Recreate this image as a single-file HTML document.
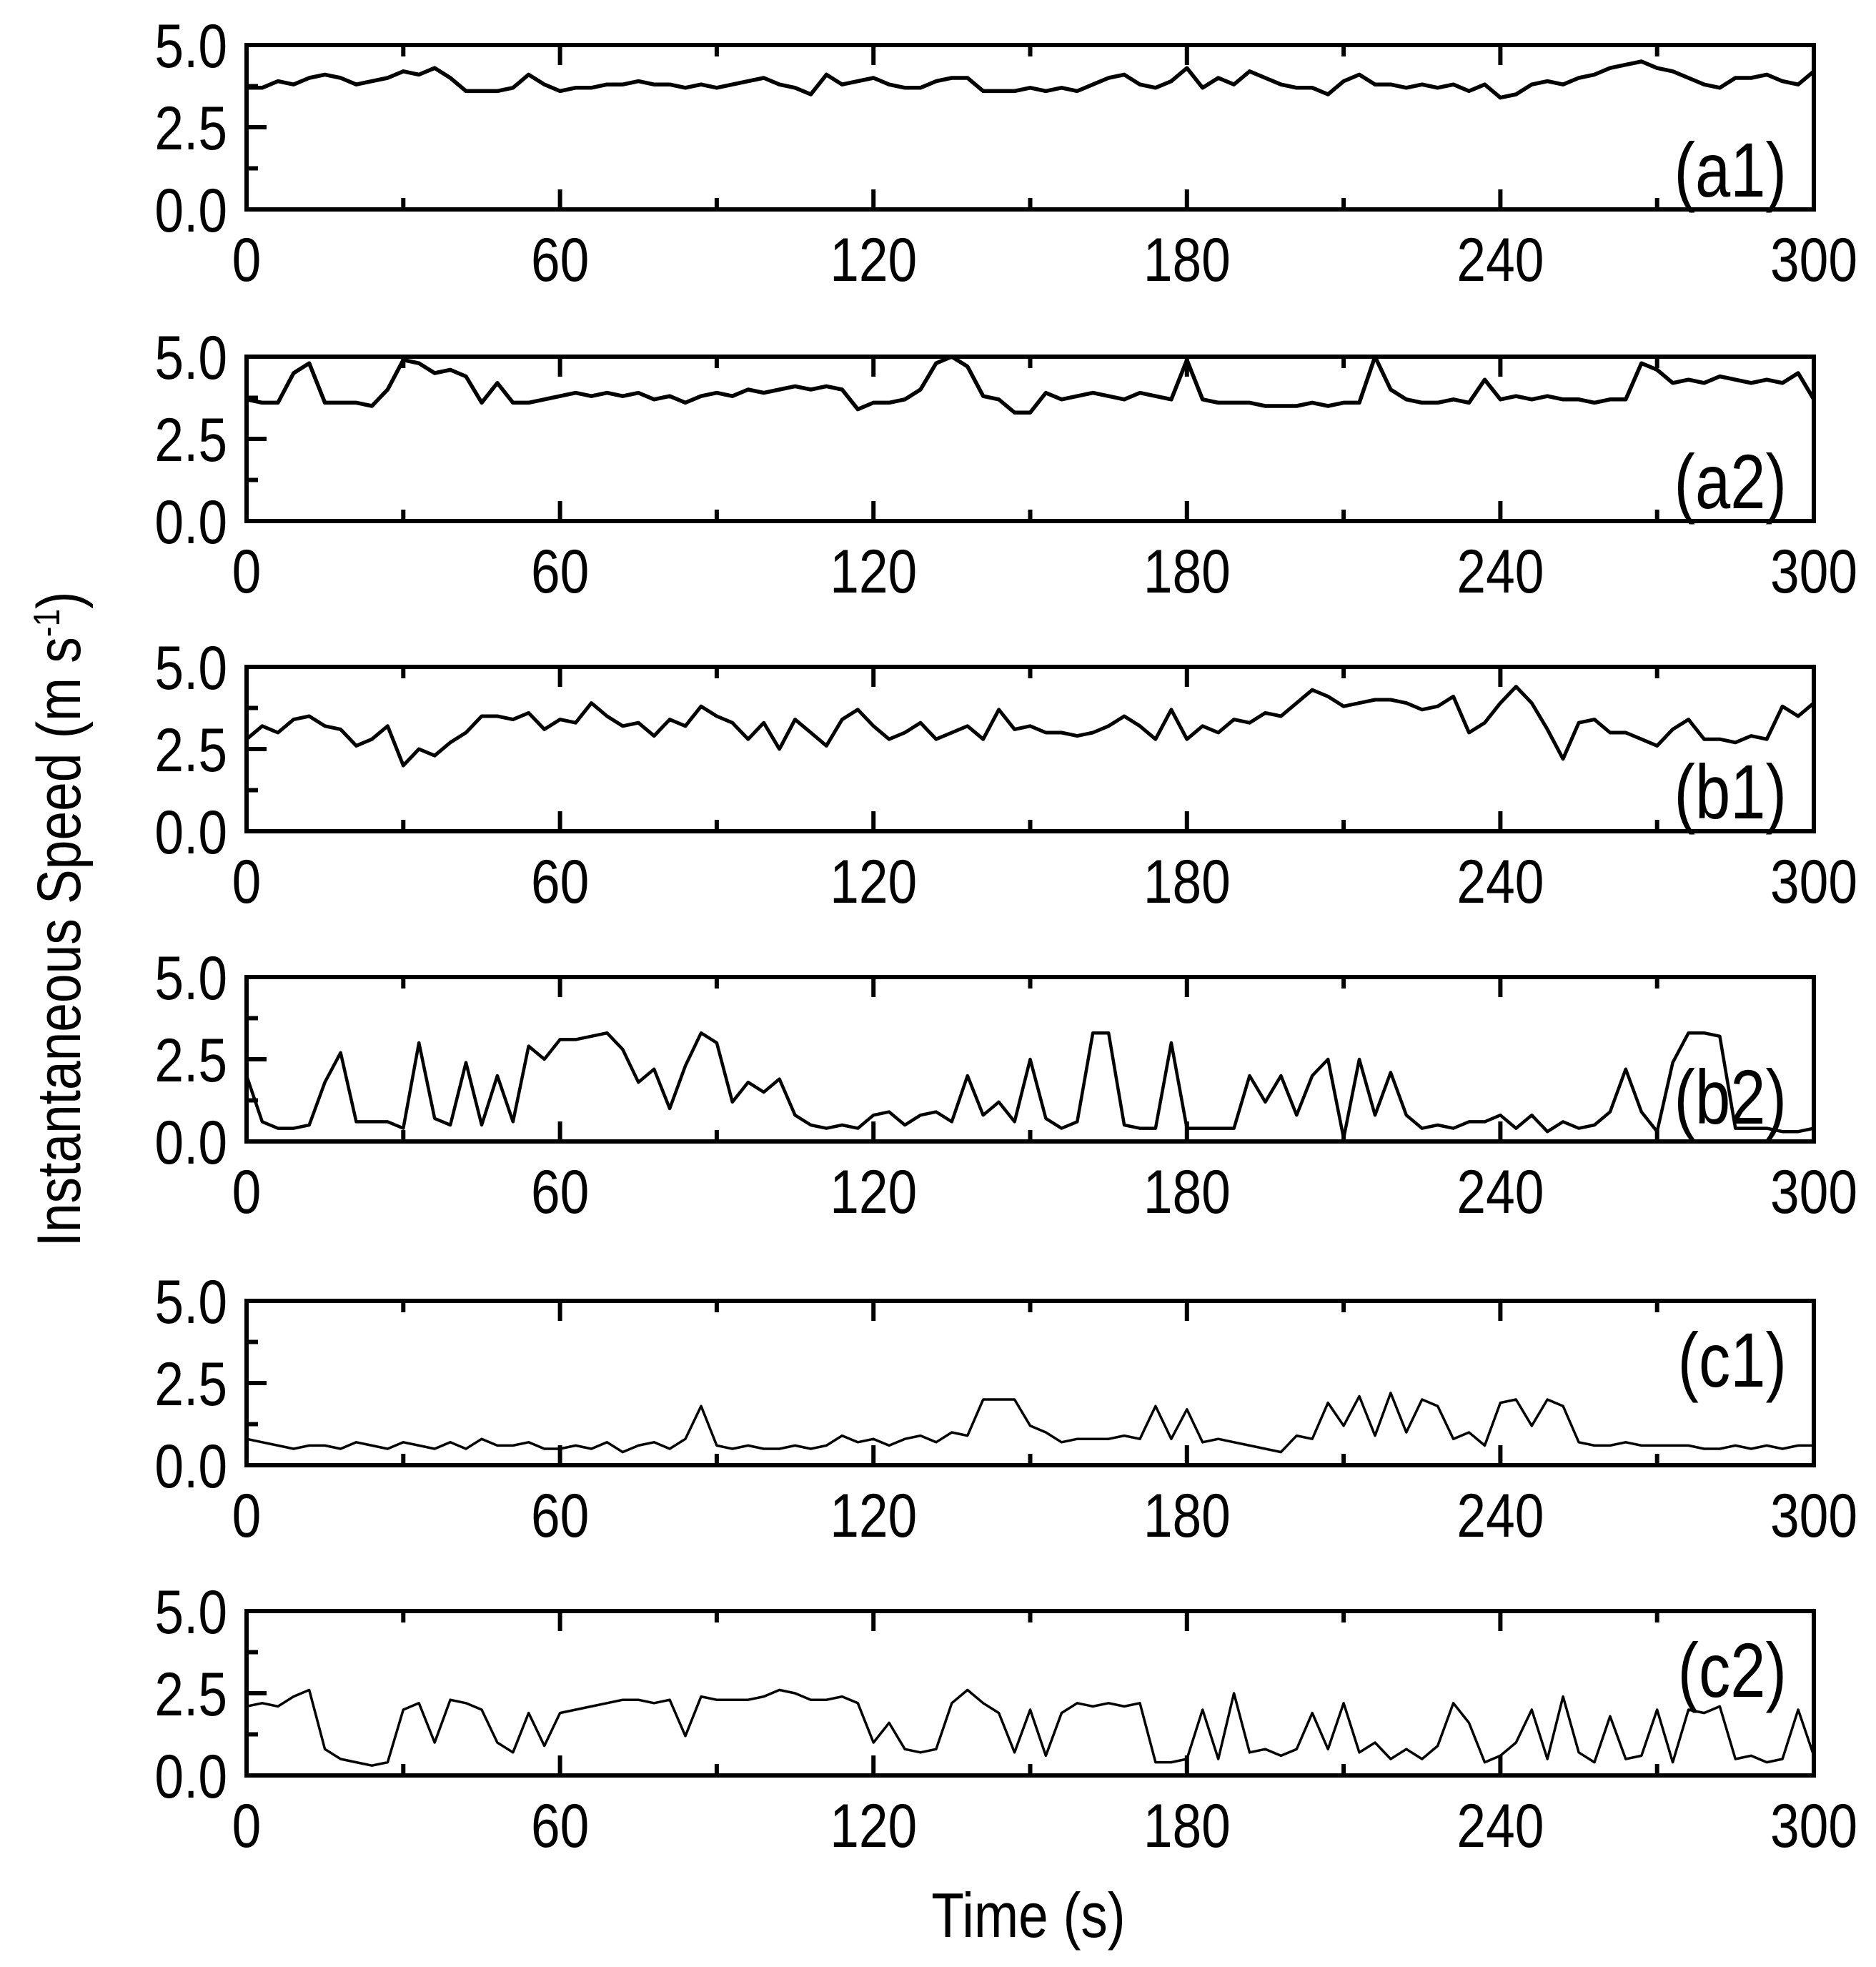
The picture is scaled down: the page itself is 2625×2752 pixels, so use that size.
<!DOCTYPE html>
<html><head><meta charset="utf-8"><style>
html,body{margin:0;padding:0;background:#fff}
svg text{font-family:"Liberation Sans",sans-serif;fill:#000}
</style></head><body>
<svg id="chart" width="2625" height="2747" viewBox="0 0 2625 2747" xmlns="http://www.w3.org/2000/svg"></svg>
<script>
const panelNames = ["a1","a2","b1","b2","c1","c2"];
const yTickLabels = ["0.0","2.5","5.0"];
const xTickLabels = ["0","60","120","180","240","300"];
const a1 = [3.7,3.7,3.9,3.8,4.0,4.1,4.0,3.8,3.9,4.0,4.2,4.1,4.3,4.0,3.6,3.6,3.6,3.7,4.1,3.8,3.6,3.7,3.7,3.8,3.8,3.9,3.8,3.8,3.7,3.8,3.7,3.8,3.9,4.0,3.8,3.7,3.5,4.1,3.8,3.9,4.0,3.8,3.7,3.7,3.9,4.0,4.0,3.6,3.6,3.6,3.7,3.6,3.7,3.6,3.8,4.0,4.1,3.8,3.7,3.9,4.3,3.7,4.0,3.8,4.2,4.0,3.8,3.7,3.7,3.5,3.9,4.1,3.8,3.8,3.7,3.8,3.7,3.8,3.6,3.8,3.4,3.5,3.8,3.9,3.8,4.0,4.1,4.3,4.4,4.5,4.3,4.2,4.0,3.8,3.7,4.0,4.0,4.1,3.9,3.8,4.2];
const a2 = [3.7,3.6,3.6,4.5,4.8,3.6,3.6,3.6,3.5,4.0,4.9,4.8,4.5,4.6,4.4,3.6,4.2,3.6,3.6,3.7,3.8,3.9,3.8,3.9,3.8,3.9,3.7,3.8,3.6,3.8,3.9,3.8,4.0,3.9,4.0,4.1,4.0,4.1,4.0,3.4,3.6,3.6,3.7,4.0,4.8,5.0,4.7,3.8,3.7,3.3,3.3,3.9,3.7,3.8,3.9,3.8,3.7,3.9,3.8,3.7,4.9,3.7,3.6,3.6,3.6,3.5,3.5,3.5,3.6,3.5,3.6,3.6,5.0,4.0,3.7,3.6,3.6,3.7,3.6,4.3,3.7,3.8,3.7,3.8,3.7,3.7,3.6,3.7,3.7,4.8,4.6,4.2,4.3,4.2,4.4,4.3,4.2,4.3,4.2,4.5,3.7];
const b1 = [2.8,3.2,3.0,3.4,3.5,3.2,3.1,2.6,2.8,3.2,2.0,2.5,2.3,2.7,3.0,3.5,3.5,3.4,3.6,3.1,3.4,3.3,3.9,3.5,3.2,3.3,2.9,3.4,3.2,3.8,3.5,3.3,2.8,3.3,2.5,3.4,3.0,2.6,3.4,3.7,3.2,2.8,3.0,3.3,2.8,3.0,3.2,2.8,3.7,3.1,3.2,3.0,3.0,2.9,3.0,3.2,3.5,3.2,2.8,3.7,2.8,3.2,3.0,3.4,3.3,3.6,3.5,3.9,4.3,4.1,3.8,3.9,4.0,4.0,3.9,3.7,3.8,4.1,3.0,3.3,3.9,4.4,3.9,3.1,2.2,3.3,3.4,3.0,3.0,2.8,2.6,3.1,3.4,2.8,2.8,2.7,2.9,2.8,3.8,3.5,3.9];
const b2 = [2.0,0.6,0.4,0.4,0.5,1.8,2.7,0.6,0.6,0.6,0.4,3.0,0.7,0.5,2.4,0.5,2.0,0.6,2.9,2.5,3.1,3.1,3.2,3.3,2.8,1.8,2.2,1.0,2.3,3.3,3.0,1.2,1.8,1.5,1.9,0.8,0.5,0.4,0.5,0.4,0.8,0.9,0.5,0.8,0.9,0.6,2.0,0.8,1.2,0.6,2.5,0.7,0.4,0.6,3.3,3.3,0.5,0.4,0.4,3.0,0.4,0.4,0.4,0.4,2.0,1.2,2.0,0.8,2.0,2.5,0.1,2.5,0.8,2.1,0.8,0.4,0.5,0.4,0.6,0.6,0.8,0.4,0.8,0.3,0.6,0.4,0.5,0.9,2.2,0.9,0.3,2.4,3.3,3.3,3.2,0.4,0.4,0.4,0.3,0.3,0.4];
const c1 = [0.8,0.7,0.6,0.5,0.6,0.6,0.5,0.7,0.6,0.5,0.7,0.6,0.5,0.7,0.5,0.8,0.6,0.6,0.7,0.5,0.5,0.6,0.5,0.7,0.4,0.6,0.7,0.5,0.8,1.8,0.6,0.5,0.6,0.5,0.5,0.6,0.5,0.6,0.9,0.7,0.8,0.6,0.8,0.9,0.7,1.0,0.9,2.0,2.0,2.0,1.2,1.0,0.7,0.8,0.8,0.8,0.9,0.8,1.8,0.8,1.7,0.7,0.8,0.7,0.6,0.5,0.4,0.9,0.8,1.9,1.2,2.1,0.9,2.2,1.0,2.0,1.8,0.8,1.0,0.6,1.9,2.0,1.2,2.0,1.8,0.7,0.6,0.6,0.7,0.6,0.6,0.6,0.6,0.5,0.5,0.6,0.5,0.6,0.5,0.6,0.6];
const c2 = [2.1,2.2,2.1,2.4,2.6,0.8,0.5,0.4,0.3,0.4,2.0,2.2,1.0,2.3,2.2,2.0,1.0,0.7,1.9,0.9,1.9,2.0,2.1,2.2,2.3,2.3,2.2,2.3,1.2,2.4,2.3,2.3,2.3,2.4,2.6,2.5,2.3,2.3,2.4,2.2,1.0,1.6,0.8,0.7,0.8,2.2,2.6,2.2,1.9,0.7,2.0,0.6,1.9,2.2,2.1,2.2,2.1,2.2,0.4,0.4,0.5,2.0,0.5,2.5,0.7,0.8,0.6,0.8,1.9,0.8,2.2,0.7,1.0,0.5,0.8,0.5,0.9,2.2,1.6,0.4,0.6,1.0,2.0,0.5,2.4,0.7,0.4,1.8,0.5,0.6,2.0,0.4,2.0,1.9,2.1,0.5,0.6,0.4,0.5,2.0,0.6];
const series = [a1,a2,b1,b2,c1,c2];

const NS="http://www.w3.org/2000/svg";
const svg=document.getElementById('chart');
function mk(tag,attrs,parent){const e=document.createElementNS(NS,tag);for(const k in attrs)e.setAttribute(k,attrs[k]);(parent||svg).appendChild(e);return e;}
function txt(parent,x,y,s,size,anchor,sx){
  const t=mk('text',{x:0,y:0,'text-anchor':anchor,'font-size':size,transform:'translate('+x+','+y+') scale('+sx+',1)'},parent);
  t.textContent=s;return t;
}
const L=345,R=2538,H=230;
const tops=[63,499,933,1367,1820,2254];
const lw=[5.5,5.5,5,4.5,3.5,3.5];
const labelOff=[212,212,212,205,120,120];
function xs(t){return L+(R-L)*t/300;}
panelNames.forEach((name,p)=>{
  const top=tops[p],bot=top+H;
  const ys=v=>bot-H*v/5;
  const g=mk('g',{});
  
  
  const vals=series[p];
  const n=vals.length;
  let d='';
  vals.forEach((v,i)=>{const t=i*300/(n-1);d+=(i?'L':'M')+xs(t).toFixed(1)+','+ys(v).toFixed(1);});
  const line=mk('path',{d:d,fill:'none',stroke:'#000','stroke-width':lw[p],'stroke-linejoin':'round'},g);
  
  
  const fr=mk('rect',{x:L,y:top,width:R-L,height:H,fill:'none',stroke:'#000','stroke-width':6},g);
  
  
  for(let t=0;t<=300;t+=30){
    const major=t%60===0, len=major?28:16;
    mk('line',{x1:xs(t),x2:xs(t),y1:bot,y2:bot-len,stroke:'#000','stroke-width':6},g);
    mk('line',{x1:xs(t),x2:xs(t),y1:top,y2:top+len,stroke:'#000','stroke-width':6},g);
  }
  for(let k=0;k<=4;k++){
    const v=k*1.25,len=k%2===0?28:16;
    mk('line',{x1:L,x2:L+len,y1:ys(v),y2:ys(v),stroke:'#000','stroke-width':6},g);
  }
  yTickLabels.forEach((s,k)=>{
    const tx=txt(g,318,ys(k*2.5)+31,s,86,'end',0.85);
    
    
  });
  xTickLabels.forEach((s,k)=>{
    const tx=txt(g,xs(k*60),bot+100,s,86,'middle',0.85);
    
    
  });
  const lb=txt(g,2500,top+labelOff[p],'('+name+')',108,'end',0.82);
  
  
});
const yt=mk('text',{x:0,y:0,'text-anchor':'middle','font-size':86,transform:'translate(112,1286) rotate(-90) scale(0.85,1)'});
yt.innerHTML='Instantaneous Speed (m s<tspan baseline-shift="super" font-size="52">-1</tspan>)';


const xt=txt(svg,1439,2710,'Time (s)',88,'middle',0.85);


</script>
</body></html>
